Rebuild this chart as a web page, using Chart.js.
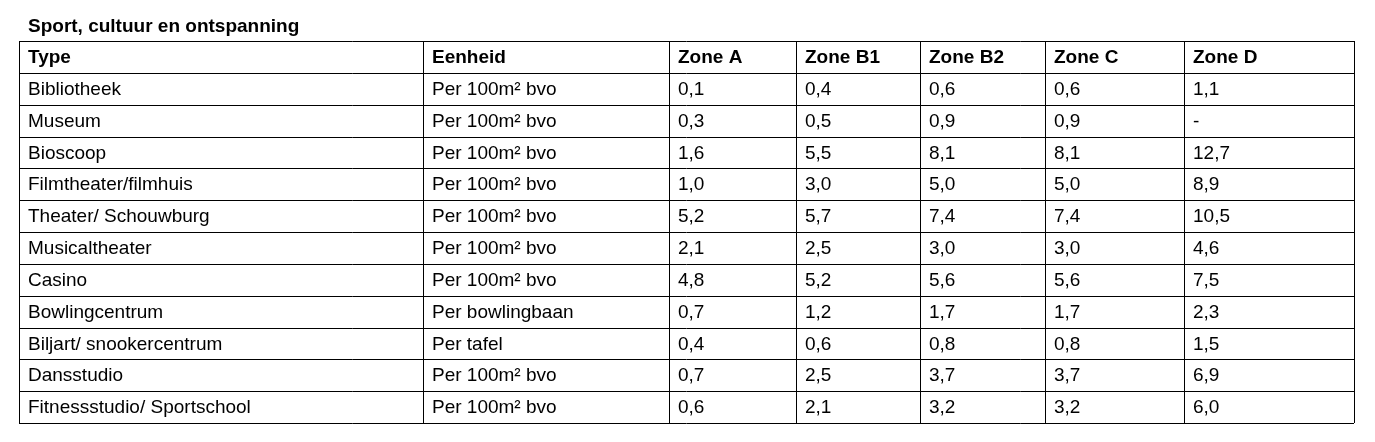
<!DOCTYPE html>
<html><head><meta charset="utf-8">
<script src="https://cdn.jsdelivr.net/npm/chart.js@4"></script>
<style>html,body{margin:0;padding:0;background:#fff}#w{width:1375px;height:442px;position:relative}</style>
</head><body><div id="w"><canvas id="c"></canvas></div>
<script>
const title = "Sport, cultuur en ontspanning";
const headers = ["Type","Eenheid","Zone A","Zone B1","Zone B2","Zone C","Zone D"];
const types = ["Bibliotheek","Museum","Bioscoop","Filmtheater/filmhuis","Theater/ Schouwburg","Musicaltheater","Casino","Bowlingcentrum","Biljart/ snookercentrum","Dansstudio","Fitnessstudio/ Sportschool"];
const units = ["Per 100m² bvo","Per 100m² bvo","Per 100m² bvo","Per 100m² bvo","Per 100m² bvo","Per 100m² bvo","Per 100m² bvo","Per bowlingbaan","Per tafel","Per 100m² bvo","Per 100m² bvo"];
const zoneA  = ["0,1","0,3","1,6","1,0","5,2","2,1","4,8","0,7","0,4","0,7","0,6"];
const zoneB1 = ["0,4","0,5","5,5","3,0","5,7","2,5","5,2","1,2","0,6","2,5","2,1"];
const zoneB2 = ["0,6","0,9","8,1","5,0","7,4","3,0","5,6","1,7","0,8","3,7","3,2"];
const zoneC  = ["0,6","0,9","8,1","5,0","7,4","3,0","5,6","1,7","0,8","3,7","3,2"];
const zoneD  = ["1,1","-","12,7","8,9","10,5","4,6","7,5","2,3","1,5","6,9","6,0"];

// layout (column edges in table pixel units, not data)
const colEdges = [0,404,650,777,901,1026,1165,1335];
const FONT = "'Liberation Sans', Arial, sans-serif";

const rowLabels = ["header"].concat(types);
const columns = [types, units, zoneA, zoneB1, zoneB2, zoneC, zoneD];

const tablePlugin = {
  id: 'table',
  afterDraw(chart) {
    const ctx = chart.ctx, xs = chart.scales.x, ys = chart.scales.y;
    const n = rowLabels.length;
    const band = (ys.bottom - ys.top) / n;
    ctx.save();
    // title
    ctx.fillStyle = '#000';
    ctx.font = "bold 19px " + FONT;
    ctx.textBaseline = 'middle';
    ctx.fillText(title, 28, 27);
    // grid
    ctx.strokeStyle = '#000'; ctx.lineWidth = 1;
    for (let i = 0; i <= n; i++) {
      const y = Math.round(ys.top + i * band) + 0.5;
      ctx.beginPath(); ctx.moveTo(xs.getPixelForValue(0), y); ctx.lineTo(xs.getPixelForValue(colEdges[colEdges.length-1]), y); ctx.stroke();
    }
    colEdges.forEach(e => {
      const x = Math.round(xs.getPixelForValue(e)) + 0.5;
      ctx.beginPath(); ctx.moveTo(x, ys.top); ctx.lineTo(x, ys.bottom); ctx.stroke();
    });
    // text
    for (let r = 0; r < n; r++) {
      const yc = ys.getPixelForValue(r) + 1;
      for (let c = 0; c < headers.length; c++) {
        const txt = r === 0 ? headers[c] : columns[c][r-1];
        ctx.font = (r === 0 ? "bold " : "") + "19px " + FONT;
        ctx.fillText(txt, xs.getPixelForValue(colEdges[c]) + 9, yc);
      }
    }
    ctx.restore();
  }
};

new Chart(document.getElementById('c'), {
  type: 'bar',
  data: { labels: rowLabels, datasets: [{ data: rowLabels.map(() => null) }] },
  options: {
    indexAxis: 'y',
    responsive: true, maintainAspectRatio: false, animation: false,
    layout: { padding: { left: 19, right: 21, top: 41, bottom: 19 } },
    plugins: { legend: { display: false }, tooltip: { enabled: false } },
    scales: {
      x: { type: 'linear', min: 0, max: colEdges[colEdges.length-1], display: false },
      y: { type: 'category', display: false, offset: true }
    }
  },
  plugins: [tablePlugin]
});
</script></body></html>
